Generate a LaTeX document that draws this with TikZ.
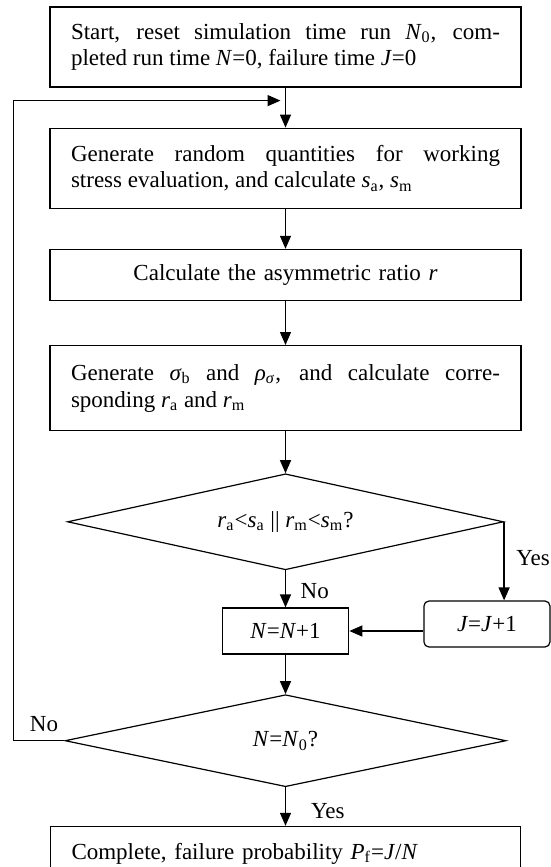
\documentclass[tikz,border=0pt]{standalone}
\usepackage{fontspec}
\setmainfont{Liberation Serif}
\usetikzlibrary{positioning, arrows.meta, shapes.geometric}

\begin{document}
\begin{tikzpicture}[
  every node/.style={font=\fontsize{11.5pt}{13.4pt}\selectfont},
  box/.style={
    rectangle, draw=black, line width=0.6pt,
    text width=#1, align=justify, inner xsep=10.5pt, inner ysep=2pt
  },
  cond/.style={
    diamond, draw=black, line width=0.6pt, aspect=4.5, inner sep=0pt
  },
  arr/.style={-{Triangle[length=6.5pt, width=5.5pt]}, line width=0.65pt},
  lbl/.style={inner sep=2pt},
]

\useasboundingbox (0,0) rectangle (275.5pt,-433.5pt);
\clip (0,0) rectangle (275.5pt,-433.5pt);

%% Initialisation
\node[box=214.5pt, minimum height=40pt] (start) at (142.75pt,-23.5pt) {
  Start, reset simulation time run \textit{N}\textsubscript{0}, com-\linebreak
  pleted run time \textit{N}=0, failure time \textit{J}=0
};
\coordinate[below=6.5pt of start] (back);

%% Stress sampling
\node[box=214.5pt, minimum height=40pt, below=20pt of start] (gen) {
  Generate random quantities for working\linebreak
  stress evaluation, and calculate \textit{s}\textsubscript{a}, \textit{s}\textsubscript{m}
};

\node[box=214.5pt, minimum height=25.5pt, align=center, below=20pt of gen] (ratio) {
  Calculate the asymmetric ratio \textit{r}
};

%% Strength sampling
\node[box=214.5pt, minimum height=42.5pt, below=22pt of ratio] (sigma) {
  Generate \textit{σ}\textsubscript{b} and \textit{ρ}\textsubscript{\textit{σ}}, and calculate corre-\linebreak
  sponding \textit{r}\textsubscript{a} and \textit{r}\textsubscript{m}
};

%% Failure check
\node[cond, minimum width=218pt, minimum height=48pt, below=21pt of sigma] (check) {
  \textit{r}\textsubscript{a}<\textit{s}\textsubscript{a} || \textit{r}\textsubscript{m}<\textit{s}\textsubscript{m}?
};

\node[box=42.25pt, minimum height=23pt, align=center, below=18.5pt of check] (count) {
  \textit{N}=\textit{N}+1
};

\node[box=42pt, minimum height=23pt, align=center, rounded corners=2.5pt,
      right=37pt of count, yshift=3.5pt] (fail) {
  \textit{J}=\textit{J}+1
};

%% Loop check
\node[cond, aspect=4.8, minimum width=220.5pt, minimum height=46pt, below=19.75pt of count] (loop) {
  \textit{N}=\textit{N}\textsubscript{0}?
};

\node[box=214pt, minimum height=27pt, align=left, below=19.25pt of loop] (done) {
  Complete, failure probability \textit{P}\textsubscript{f}=\textit{J}/\textit{N}
};

%% Arrows
\draw[arr] (start) -- (gen);
\draw[arr] (gen)   -- (ratio);
\draw[arr] (ratio) -- (sigma);
\draw[arr] (sigma) -- (check);
\draw[arr] (check) -- node[lbl, pos=0.55, right=5.25pt] {No} (count);
\draw[arr] (check.east) -- node[lbl, pos=0.46, right=3.75pt] {Yes} (check.east |- fail.north);
\draw[arr] (count.east -| fail.west) -- (count.east);
\draw[arr] (count) -- (loop);
\draw[arr] (loop)  -- node[lbl, pos=0.61, right=10.5pt] {Yes} (done);
\draw[arr] (loop.west) -- node[lbl, pos=0.4, above=2.25pt] {No} ++(-25.5pt,0)
  |- ([xshift=-2.5pt]back);

\end{tikzpicture}
\end{document}
